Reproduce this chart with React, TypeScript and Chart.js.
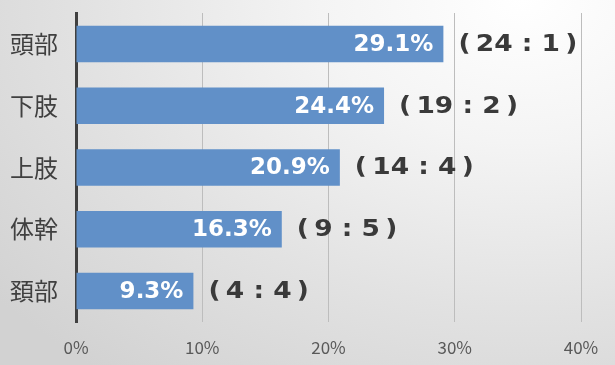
import React, { useEffect, useRef } from 'react';
import { Chart, registerables } from 'chart.js';

Chart.register(...registerables);

const categories = ['頭部', '下肢', '上肢', '体幹', '頚部'];
const percentages = [29.1, 24.4, 20.9, 16.3, 9.3];
const ratioLabels = ['(\u200924 : 1\u2009)', '(\u200919 : 2\u2009)', '(\u200914 : 4\u2009)', '(\u20099 : 5\u2009)', '(\u20094 : 4\u2009)'];
const xMin = 0;
const xMax = 40;
const xStep = 10;

const labelPlugin = {
  id: 'barLabels',
  afterDatasetsDraw(chart: any) {
    const ctx = chart.ctx;
    const meta = chart.getDatasetMeta(0);
    meta.data.forEach((bar: any, i: number) => {
      const { x, y } = bar.getProps(['x', 'y'], true);
      ctx.save();
      ctx.textBaseline = 'middle';
      ctx.font = 'bold 23px "DejaVu Sans"';
      ctx.fillStyle = '#ffffff';
      ctx.textAlign = 'right';
      ctx.fillText(percentages[i].toFixed(1) + '%', x - 10, y + 1);
      ctx.restore();

      ctx.save();
      ctx.translate(x + 15, y + 1);
      ctx.scale(1.15, 1);
      ctx.textBaseline = 'middle';
      ctx.font = 'bold 23px "DejaVu Sans"';
      ctx.fillStyle = '#3a3a3a';
      ctx.textAlign = 'left';
      ctx.fillText(ratioLabels[i], 0, 0);
      ctx.restore();
    });
  },
};

export default function App() {
  const canvasRef = useRef<HTMLCanvasElement | null>(null);

  useEffect(() => {
    document.body.style.margin = '0';
    const canvas = canvasRef.current;
    if (!canvas) return;
    const chart = new Chart(canvas, {
      type: 'bar',
      data: {
        labels: categories,
        datasets: [
          {
            data: percentages,
            backgroundColor: '#6190c8',
            borderWidth: 0,
            categoryPercentage: 1,
            barPercentage: 0.59,
          },
        ],
      },
      options: {
        indexAxis: 'y',
        animation: false,
        responsive: false,
        maintainAspectRatio: false,
        layout: { padding: { top: 13, right: 34, left: 0, bottom: 0 } },
        plugins: {
          legend: { display: false },
          tooltip: { enabled: false },
        },
        scales: {
          x: {
            min: xMin,
            max: xMax,
            ticks: {
              stepSize: xStep,
              padding: 15,
              color: '#595959',
              font: { family: '"Noto Sans CJK JP"', size: 17 },
              callback: (v: any) => v + '%',
            },
            grid: {
              drawTicks: false,
              color: (c: any) => (c.tick && c.tick.value === 0 ? 'rgba(0,0,0,0)' : '#bdbdbd'),
              lineWidth: 1,
            },
            border: { display: false },
            afterFit: (s: any) => {
              s.height = 43;
              s.paddingLeft = 0;
              s.paddingRight = 0;
            },
          },
          y: {
            ticks: {
              padding: 18,
              color: '#404040',
              font: { family: '"Noto Sans CJK JP"', size: 24 },
            },
            grid: { display: false, drawTicks: false },
            border: { display: true, color: '#404040', width: 3 },
            afterFit: (s: any) => {
              s.width = 76;
              s.paddingTop = 0;
              s.paddingBottom = 0;
            },
          },
        },
      },
      plugins: [labelPlugin],
    });
    return () => chart.destroy();
  }, []);

  return (
    <div
      style={{
        position: 'absolute',
        left: 0,
        top: 0,
        width: 615,
        height: 365,
        background:
          'radial-gradient(ellipse 110% 130% at 85% 0%, #ffffff 0%, #f4f4f4 30%, #e2e2e2 65%, #d2d2d2 100%)',
      }}
    >
      <canvas ref={canvasRef} width={615} height={365} style={{ display: 'block' }} />
    </div>
  );
}
